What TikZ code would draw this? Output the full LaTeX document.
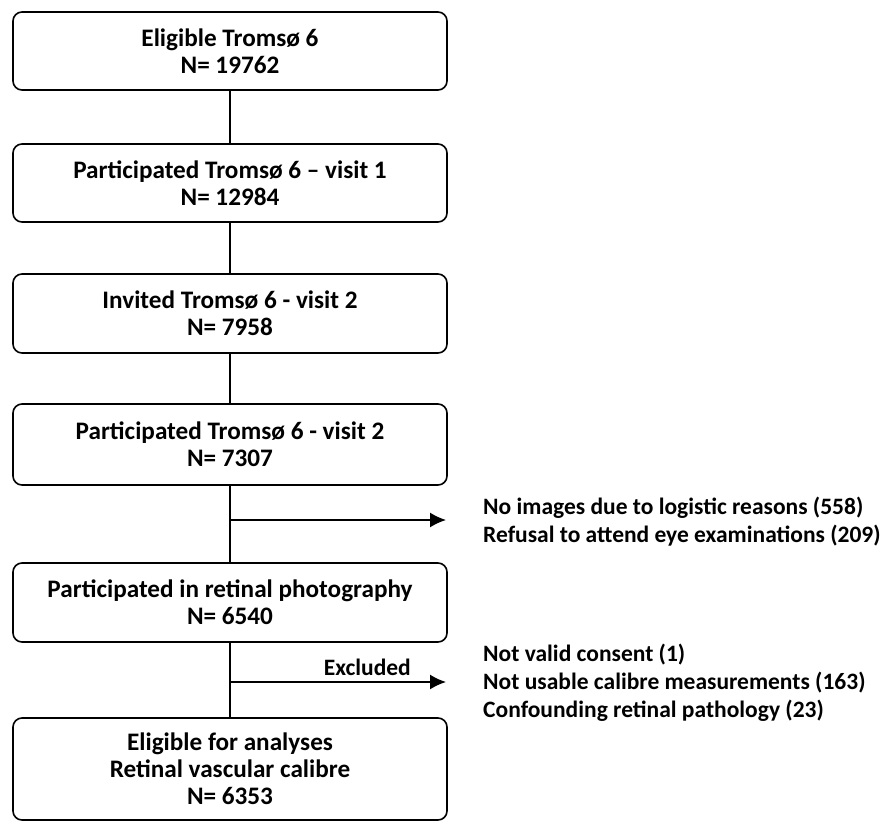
\documentclass[tikz,border=0pt]{standalone}
\usepackage{fontspec}
\setmainfont{Carlito}
\usetikzlibrary{arrows.meta}
\begin{document}
\begin{tikzpicture}[x=1pt,y=-1pt,
  flowbox/.style={draw,line width=1.6pt,rounded corners=9pt,minimum width=434pt,
    align=center,inner sep=0pt,font=\bfseries\fontsize{25.2}{27}\selectfont},
  side/.style={align=left,anchor=west,inner sep=0pt,font=\bfseries\fontsize{23.5}{28}\selectfont},
  conn/.style={line width=1.6pt},
  arr/.style={line width=1.6pt,-{Latex[length=16pt,width=15pt]}}]
\useasboundingbox (0,0) rectangle (884,822);
\node[flowbox,minimum height=78pt] (b1) at (230,51) {Eligible Tromsø 6\\N= 19762};
\node[flowbox,minimum height=78pt] (b2) at (230,183) {Participated Tromsø 6 – visit 1\\N= 12984};
\node[flowbox,minimum height=79pt] (b3) at (230,313.5) {Invited Tromsø 6 - visit 2\\N= 7958};
\node[flowbox,minimum height=81pt] (b4) at (230,444.5) {Participated Tromsø 6 - visit 2\\N= 7307};
\node[flowbox,minimum height=79pt] (b5) at (230,602.5) {Participated in retinal photography\\N= 6540};
\node[flowbox,minimum height=102pt] (b6) at (230,769) {Eligible for analyses\\Retinal vascular calibre\\N= 6353};
\draw[conn] (b1) -- (b2);
\draw[conn] (b2) -- (b3);
\draw[conn] (b3) -- (b4);
\draw[conn] (b4) -- (b5);
\draw[conn] (b5) -- (b6);
\coordinate (j1) at (230,520);
\coordinate (t1) at (446,520);
\coordinate (j2) at (230,682);
\coordinate (t2) at (446,682);
\draw[arr] (j1) -- (t1);
\draw[arr] (j2) -- (t2);
\node[side] (s1) at (483,522) {No images due to logistic reasons (558)\\Refusal to attend eye examinations (209)};
\node[side] (s2) at (483,682.5) {Not valid consent (1)\\Not usable calibre measurements (163)\\Confounding retinal pathology (23)};
\node[anchor=east,inner sep=0pt,font=\bfseries\fontsize{23.5}{28}\selectfont] (ex) at (411,667) {Excluded};
\end{tikzpicture}
\end{document}
